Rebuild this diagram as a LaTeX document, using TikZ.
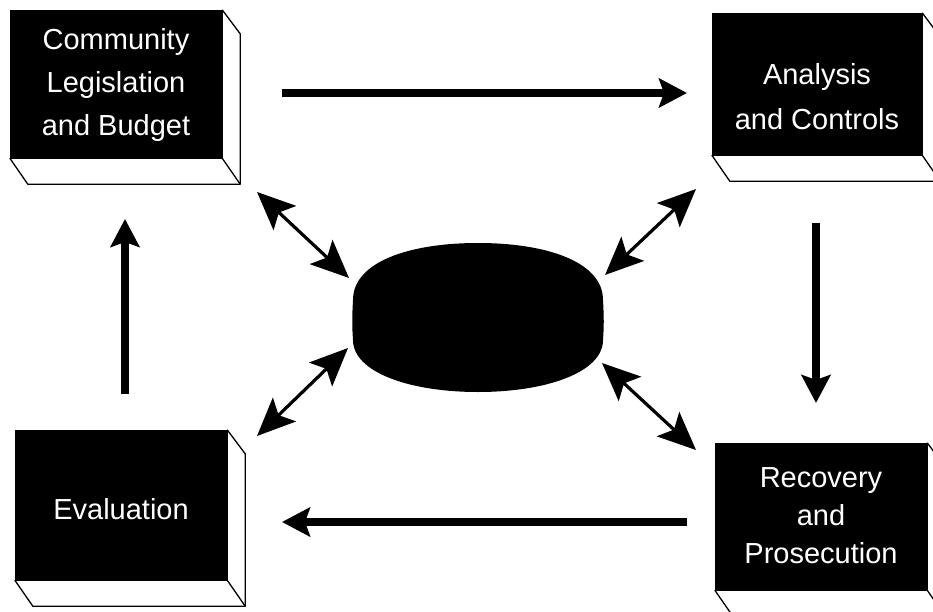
\documentclass[tikz,border=0pt]{standalone}
\usepackage{fontspec}
\setmainfont{Liberation Sans}
\usetikzlibrary{arrows.meta}
\begin{document}
\begin{tikzpicture}[x=1pt,y=-1pt,
  frontbox/.style={fill=black,draw=black,inner sep=0pt},
  boxtext/.style={text=white,align=center,font=\fontsize{29}{43}\selectfont,inner sep=0pt},
  edge3d/.style={draw=black,line width=1.3pt,line join=round},
  flow/.style={line width=8pt,-{Stealth[length=28pt,width=29pt,inset=5pt]}},
  link/.style={line width=3.2pt,{Stealth[length=38pt,width=33pt,inset=8pt]}-{Stealth[length=38pt,width=33pt,inset=8pt]}}]
\useasboundingbox (0,0) rectangle (933,612);
\fill[white] (0,0) rectangle (933,612);
% boxes
\node[frontbox,minimum width=212pt,minimum height=148pt] (clb) at (116,84) {};
\node[frontbox,minimum width=210pt,minimum height=142pt] (ac) at (817,84) {};
\node[frontbox,minimum width=212pt,minimum height=150pt] (ev) at (121,505) {};
\node[frontbox,minimum width=212pt,minimum height=147pt] (rp) at (821,516.5) {};
% 3d edges
\foreach \b in {clb,ac,ev,rp}{
  \draw[edge3d] (\b.north east) -- ++(18,24) |- ([shift={(18,26)}]\b.south west) -- (\b.south west);
  \draw[edge3d] (\b.south east) -- ++(18,26);
}
% texts
\node[boxtext] (t1) at (116,85) {Community\\Legislation\\and Budget};
\node[boxtext,font=\fontsize{29}{45}\selectfont] (t2) at (817,97) {Analysis\\and Controls};
\node[boxtext] (t3) at (121,509) {Evaluation};
\node[boxtext,font=\fontsize{29}{38}\selectfont] (t4) at (821,516) {Recovery\\and\\Prosecution};
% hub
\node[minimum width=250pt,minimum height=149pt,inner sep=0pt] (hub) at (478,317.5) {};
\fill[black] (353,300)
  .. controls (353,262) and (409,243) .. (478,243)
  .. controls (547,243) and (603,262) .. (603,300)
  .. controls (604,318) and (604,326) .. (603,340)
  .. controls (603,372) and (547,392) .. (478,392)
  .. controls (409,392) and (353,372) .. (353,340)
  .. controls (352,326) and (352,318) .. (353,300) -- cycle;
% flow arrows
\coordinate (f1a) at (282,93); \coordinate (f1b) at (687,93);
\coordinate (f2a) at (816,223); \coordinate (f2b) at (816,403);
\coordinate (f3a) at (687,522); \coordinate (f3b) at (282,522);
\coordinate (f4a) at (125,394); \coordinate (f4b) at (125,219);
\draw[flow] (f1a) -- (f1b);
\draw[flow] (f2a) -- (f2b);
\draw[flow] (f3a) -- (f3b);
\draw[flow] (f4a) -- (f4b);
% links
\coordinate (l1a) at (257,192); \coordinate (l1b) at (349,278);
\coordinate (l2a) at (696,189); \coordinate (l2b) at (605,275);
\coordinate (l3a) at (257,436); \coordinate (l3b) at (348,348);
\coordinate (l4a) at (696,450); \coordinate (l4b) at (602,363);
\draw[link] (l1a) -- (l1b);
\draw[link] (l2a) -- (l2b);
\draw[link] (l3a) -- (l3b);
\draw[link] (l4a) -- (l4b);
\end{tikzpicture}
\end{document}
